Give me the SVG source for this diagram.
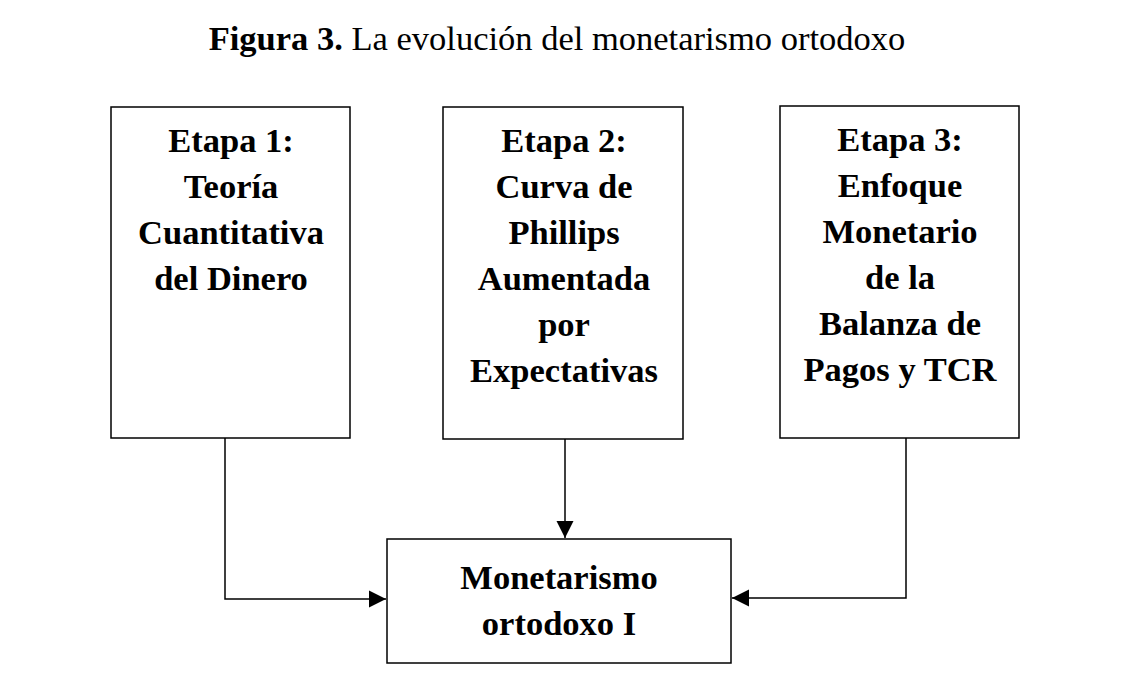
<svg xmlns="http://www.w3.org/2000/svg" width="1128" height="697" viewBox="0 0 1128 697">
<style>
.box{fill:#fff;stroke:#000;stroke-width:1.5}
.t{font-family:"Liberation Serif","Times New Roman",serif;font-weight:bold;font-size:34.5px;text-anchor:middle;fill:#000}
.title{font-family:"Liberation Serif","Times New Roman",serif;font-size:34.5px;text-anchor:middle;fill:#000}
.c{fill:none;stroke:#000;stroke-width:1.5}
</style>
<defs>
<marker id="ah" markerUnits="userSpaceOnUse" markerWidth="18" markerHeight="18" refX="17" refY="8.5" orient="auto" viewBox="0 0 18 17">
<path d="M0,0 L17,8.5 L0,17 Z" fill="#000"/>
</marker>
</defs>
<rect width="1128" height="697" fill="#fff"/>
<text class="title" x="557" y="50"><tspan font-weight="bold">Figura 3.</tspan> La evolución del monetarismo ortodoxo</text>
<g id="etapa1">
<rect class="box" x="111" y="107" width="239" height="331"/>
<text class="t" x="231" y="152">Etapa 1:</text>
<text class="t" x="231" y="198">Teoría</text>
<text class="t" x="231" y="244">Cuantitativa</text>
<text class="t" x="231" y="290">del Dinero</text>
</g>
<g id="etapa2">
<rect class="box" x="443" y="107" width="240" height="332"/>
<text class="t" x="564" y="152">Etapa 2:</text>
<text class="t" x="564" y="198">Curva de</text>
<text class="t" x="564" y="244">Phillips</text>
<text class="t" x="564" y="290">Aumentada</text>
<text class="t" x="564" y="336">por</text>
<text class="t" x="564" y="382">Expectativas</text>
</g>
<g id="etapa3">
<rect class="box" x="780" y="106" width="239" height="332"/>
<text class="t" x="900" y="151">Etapa 3:</text>
<text class="t" x="900" y="197">Enfoque</text>
<text class="t" x="900" y="243">Monetario</text>
<text class="t" x="900" y="289">de la</text>
<text class="t" x="900" y="335">Balanza de</text>
<text class="t" x="900" y="381">Pagos y TCR</text>
</g>
<g id="monetarismo">
<rect class="box" x="387" y="539" width="344" height="124"/>
<text class="t" x="559" y="589">Monetarismo</text>
<text class="t" x="559" y="635">ortodoxo I</text>
</g>
<g id="connectors">
<path class="c" d="M225,438 V599 H386" marker-end="url(#ah)"/>
<path class="c" d="M565,439 V538" marker-end="url(#ah)" stroke="#666"/>
<path class="c" d="M906,438 V598 H732" marker-end="url(#ah)"/>
</g>
</svg>
